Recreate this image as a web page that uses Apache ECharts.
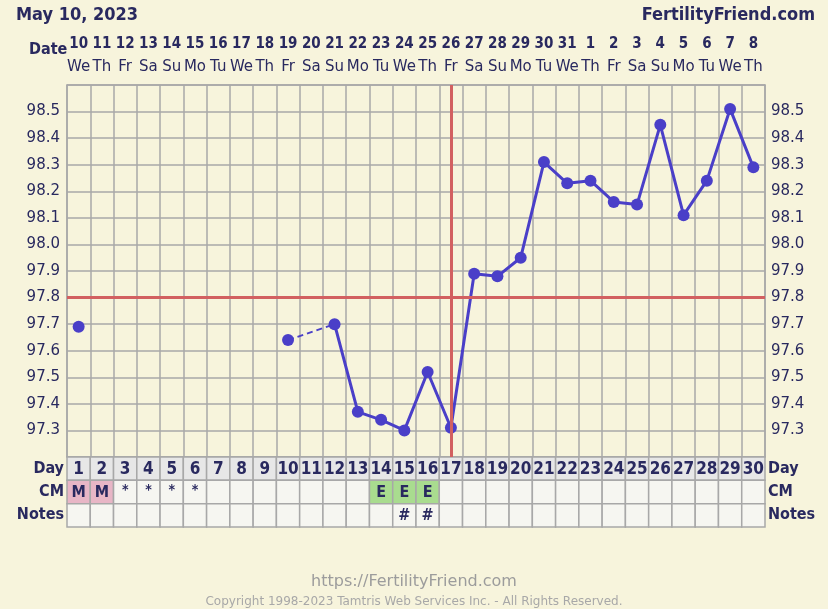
<!DOCTYPE html>
<html><head><meta charset="utf-8">
<script src="https://cdn.jsdelivr.net/npm/echarts@6/dist/echarts.min.js"></script>
<style>html,body{margin:0;padding:0;background:#f7f4dc;}#c{width:828px;height:609px;}</style>
</head><body><div id="c"></div>
<script>
var cycleDays = ['1','2','3','4','5','6','7','8','9','10','11','12','13','14','15','16','17','18','19','20','21','22','23','24','25','26','27','28','29','30'];
var dates = ['10','11','12','13','14','15','16','17','18','19','20','21','22','23','24','25','26','27','28','29','30','31','1','2','3','4','5','6','7','8'];
var weekdays = ['We','Th','Fr','Sa','Su','Mo','Tu','We','Th','Fr','Sa','Su','Mo','Tu','We','Th','Fr','Sa','Su','Mo','Tu','We','Th','Fr','Sa','Su','Mo','Tu','We','Th'];
var temps = [97.69,null,null,null,null,null,null,null,null,97.64,null,97.70,97.37,97.34,97.30,97.52,97.31,97.89,97.88,97.95,98.31,98.23,98.24,98.16,98.15,98.45,98.11,98.24,98.51,98.29];
var bridgeTemps = [null,null,null,null,null,null,null,null,null,97.64,null,97.70,null,null,null,null,null,null,null,null,null,null,null,null,null,null,null,null,null,null];
var cm = ['M','M','*','*','*','*','','','','','','','','E','E','E','','','','','','','','','','','','','',''];
var notes = ['','','','','','','','','','','','','','','#','#','','','','','','','','','','','','','',''];
var tableRows = ['Notes','CM','Day'];
var coverline = 97.8;
var ovulationIndex = 16;
var headerDate = 'May 10, 2023';

var navy = '#29295f';
var font = 'DejaVu Sans';
var bfont = 'DejaVu Sans Condensed';
var cells = [];
for (var i = 0; i < cycleDays.length; i++) {
  cells.push([i, 2, cycleDays[i], 'day']);
  cells.push([i, 1, cm[i], cm[i] === 'M' ? 'pink' : (cm[i] === 'E' ? 'green' : 'plain')]);
  cells.push([i, 0, notes[i], 'plain']);
}
var fills = {day:'#e7e7e7', pink:'#e8b6c6', green:'#a9dc8f', plain:'#f6f6f1'};

var chart = echarts.init(document.getElementById('c'));
chart.setOption({
  backgroundColor: '#f7f4dc',
  animation: false,
  title: [
    {text: headerDate, left: 11, top: 1, textStyle: {fontFamily: bfont, fontSize: 18, fontWeight: 'bold', color: navy}},
    {text: 'FertilityFriend.com', right: 8, top: 1, textStyle: {fontFamily: bfont, fontSize: 18, fontWeight: 'bold', color: navy}},
    {text: 'Date', left: 24, top: 37, textStyle: {fontFamily: bfont, fontSize: 16, fontWeight: 'bold', color: navy}},
    {text: 'https://FertilityFriend.com', left: 'center', top: 569, textStyle: {fontFamily: font, fontSize: 16, fontWeight: 'normal', color: '#9c9c9c'}},
    {text: 'Copyright 1998-2023 Tamtris Web Services Inc. - All Rights Reserved.', left: 'center', top: 591, textStyle: {fontFamily: font, fontSize: 12, fontWeight: 'normal', color: '#a8a8a8'}}
  ],
  grid: [
    {left: 67, right: 63, top: 85, height: 372, containLabel: false},
    {left: 67, right: 63, top: 457, height: 70, containLabel: false}
  ],
  xAxis: [
    {type: 'category', gridIndex: 0, data: cycleDays, boundaryGap: true,
     axisLine: {show: true, lineStyle: {color: '#a8a8a8', width: 1.5}}, axisTick: {show: false}, axisLabel: {show: false},
     splitLine: {show: true, interval: 0, lineStyle: {color: '#a8a8a8', width: 1.5}}},
    {type: 'category', gridIndex: 0, position: 'top', data: dates, boundaryGap: true,
     axisLine: {show: true, lineStyle: {color: '#a8a8a8', width: 1.5}}, axisTick: {show: false},
     axisLabel: {show: true, interval: 0, margin: 6, hideOverlap: false,
       formatter: function (v, idx) { return '{d|' + v + '}\n{w|' + weekdays[idx] + '}'; },
       rich: {d: {fontFamily: bfont, fontSize: 15, fontWeight: 'bold', color: navy, lineHeight: 23},
              w: {fontFamily: font, fontSize: 15, color: navy, lineHeight: 23}}}},
    {type: 'category', gridIndex: 1, data: cycleDays, boundaryGap: true, show: false}
  ],
  yAxis: [
    {type: 'value', gridIndex: 0, min: 97.2, max: 98.6, interval: 0.1, position: 'left',
     axisLine: {show: true, lineStyle: {color: '#a8a8a8', width: 1.5}}, axisTick: {show: false},
     axisLabel: {showMinLabel: false, showMaxLabel: false, margin: 7, fontFamily: font, fontSize: 15, color: navy, formatter: function (v) { return v.toFixed(1); }},
     splitLine: {show: true, lineStyle: {color: '#a8a8a8', width: 1.5}}},
    {type: 'value', gridIndex: 0, min: 97.2, max: 98.6, interval: 0.1, position: 'right',
     axisLine: {show: true, lineStyle: {color: '#a8a8a8', width: 1.5}}, axisTick: {show: false},
     axisLabel: {showMinLabel: false, showMaxLabel: false, margin: 6, fontFamily: font, fontSize: 15, color: navy, formatter: function (v) { return v.toFixed(1); }},
     splitLine: {show: false}},
    {type: 'category', gridIndex: 1, data: tableRows, position: 'left', boundaryGap: true,
     axisLine: {show: false}, axisTick: {show: false},
     axisLabel: {margin: 3, fontFamily: bfont, fontSize: 16, fontWeight: 'bold', color: navy}},
    {type: 'category', gridIndex: 1, data: tableRows, position: 'right', boundaryGap: true,
     axisLine: {show: false}, axisTick: {show: false},
     axisLabel: {margin: 3, fontFamily: bfont, fontSize: 16, fontWeight: 'bold', color: navy}}
  ],
  series: [
    {type: 'line', xAxisIndex: 0, yAxisIndex: 0, data: bridgeTemps, connectNulls: true, showSymbol: false, symbol: 'none',
     lineStyle: {color: '#4a3fc8', width: 2, type: [6, 4]}, z: 2},
    {type: 'line', xAxisIndex: 0, yAxisIndex: 0, data: temps, connectNulls: false, symbol: 'circle', symbolSize: 12,
     itemStyle: {color: '#4a3fc8'}, lineStyle: {color: '#4a3fc8', width: 3}, z: 4,
     markLine: {silent: true, symbol: 'none', label: {show: false}, lineStyle: {color: '#d26060', width: 3, type: 'solid'},
       data: [{yAxis: coverline}, {xAxis: ovulationIndex}]}},
    {type: 'custom', xAxisIndex: 2, yAxisIndex: 2, data: cells,
     encode: {x: 0, y: 1},
     renderItem: function (params, api) {
       var c = api.coord([api.value(0), api.value(1)]);
       var s = api.size([1, 1]);
       var item = cells[params.dataIndex];
       var isDay = item[3] === 'day';
       return {type: 'group', children: [
         {type: 'rect', shape: {x: c[0] - s[0] / 2, y: c[1] - s[1] / 2, width: s[0], height: s[1]},
          style: {fill: fills[item[3]], stroke: '#a8a8a8', lineWidth: 1.5}},
         {type: 'text', style: {text: item[2], x: c[0], y: c[1] + (item[2] === '*' ? -2 : 1), align: 'center', verticalAlign: 'middle',
          fill: navy, font: 'bold ' + (isDay ? 17 : (item[2] === '*' ? 14 : 16)) + 'px "DejaVu Sans Condensed"'}}
       ]};
     }}
  ]
});
</script></body></html>
